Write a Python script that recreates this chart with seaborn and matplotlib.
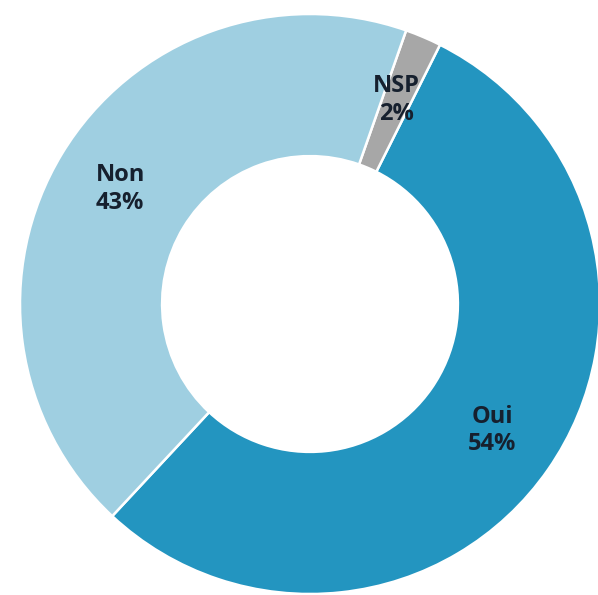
import matplotlib
matplotlib.use("Agg")
import matplotlib.pyplot as plt
import seaborn as sns

# Survey answers, drawn counter-clockwise from the lower-left boundary
categories = ["Oui", "NSP", "Non"]
shares = [54, 2, 43]
slice_colors = ["#2395c0", "#a7a7a7", "#9fcfe1"]

sns.set_theme(style="white")
plt.rcParams["font.family"] = ["Open Sans", "DejaVu Sans"]

fig = plt.figure(figsize=(5.98, 5.95), dpi=100)
W, H = 598, 595
cx, cy, R = 310, 304, 290
ax = fig.add_axes([(cx - R) / W, (H - cy - R) / H, 2 * R / W, 2 * R / H])

labels = [f"{c}\n{v}%" for c, v in zip(categories, shares)]
wedges, texts = ax.pie(
    shares,
    labels=labels,
    colors=sns.color_palette(slice_colors),
    startangle=227,
    counterclock=True,
    radius=1.0,
    labeldistance=0.765,
    wedgeprops=dict(width=0.49, edgecolor="white", linewidth=1.8),
    textprops=dict(fontsize=17, fontweight="bold", color="#16202e", linespacing=1.2),
)
for t in texts:
    t.set_horizontalalignment("center")
    t.set_verticalalignment("center")

ax.set_xlim(-1, 1)
ax.set_ylim(-1, 1)
ax.set_aspect("equal")
ax.axis("off")

fig.savefig("out.png", dpi=100)
